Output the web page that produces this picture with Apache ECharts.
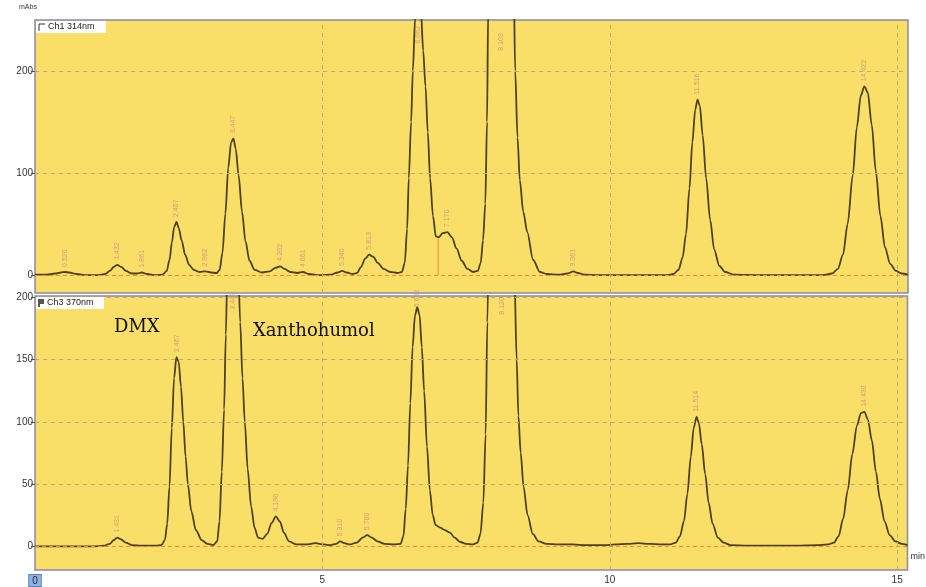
<!DOCTYPE html>
<html><head><meta charset="utf-8">
<script src="https://cdn.jsdelivr.net/npm/echarts@6/dist/echarts.min.js"></script>
<style>html,body{margin:0;padding:0;background:#fff}#c{width:926px;height:587px}</style>
</head><body><div id="c"></div>
<script>
// ---- data (retention time in min, absorbance in mAbs) ----
const xTicks = [0, 5, 10, 15];
const ch1YTicks = [0, 100, 200];
const ch3YTicks = [0, 50, 100, 150, 200];
const ch1Name = 'Ch1 314nm';
const ch3Name = 'Ch3 370nm';
const yUnit = 'mAbs';
const xUnit = 'min';
const compoundNames = ['DMX', 'Xanthohumol'];

const ch1Trace = [[0,0.5],[0.2,0.5],[0.35,1.5],[0.45,2.5],[0.52,3],[0.6,2.5],[0.72,1],[0.9,0],[1.1,0],[1.22,1],[1.3,4],[1.37,8],[1.43,10],[1.5,8],[1.58,4],[1.68,1.5],[1.78,1.5],[1.86,2.5],[1.95,1],[2.1,0],[2.22,0.5],[2.29,4],[2.34,15],[2.38,32],[2.42,47],[2.46,52],[2.5,46],[2.55,34],[2.61,20],[2.68,10],[2.76,5],[2.86,3],[2.96,3.5],[3.06,2.5],[3.16,2],[3.21,5],[3.26,22],[3.31,60],[3.36,105],[3.41,130],[3.45,134],[3.49,124],[3.54,98],[3.6,62],[3.66,33],[3.73,14],[3.82,5],[3.95,2.5],[4.08,3.5],[4.18,7],[4.26,8.5],[4.34,6],[4.44,3],[4.56,2],[4.66,3],[4.76,1],[4.95,0],[5.15,0.5],[5.26,2.5],[5.34,4],[5.42,2.5],[5.52,1],[5.6,2],[5.67,8],[5.74,16],[5.81,20],[5.88,18],[5.96,12],[6.06,6],[6.18,3],[6.3,2],[6.38,3],[6.43,12],[6.47,45],[6.5,95],[6.54,150],[6.57,200],[6.61,252],[6.66,300],[6.71,260],[6.75,220],[6.79,185],[6.83,140],[6.87,95],[6.92,58],[6.97,38],[7.02,37],[7.09,41],[7.17,42],[7.25,37],[7.33,26],[7.42,14],[7.52,6],[7.62,3],[7.7,4],[7.75,12],[7.79,34],[7.83,70],[7.86,150],[7.88,260],[7.92,420],[8.1,500],[8.27,440],[8.32,300],[8.35,200],[8.39,135],[8.43,93],[8.49,62],[8.56,42],[8.66,15],[8.78,3],[8.9,1],[9.1,0.5],[9.26,1.5],[9.36,3.5],[9.44,2],[9.55,0.5],[9.8,0],[10.2,0],[10.6,0],[11.0,0],[11.1,1],[11.19,5],[11.26,17],[11.32,40],[11.38,85],[11.43,130],[11.48,162],[11.52,172],[11.56,166],[11.61,137],[11.67,95],[11.74,54],[11.81,25],[11.9,9],[12.0,3],[12.15,0.5],[12.6,0],[13.2,0],[13.7,0],[13.86,1.5],[13.96,6],[14.05,20],[14.13,50],[14.22,98],[14.29,145],[14.36,176],[14.42,185],[14.48,179],[14.55,147],[14.62,102],[14.7,58],[14.78,27],[14.87,11],[14.97,4],[15.07,1.5],[15.18,0.5]];

const ch3Trace = [[0,0],[0.5,0],[1.0,0],[1.2,0.5],[1.3,2],[1.37,5],[1.43,7],[1.5,5.5],[1.58,3],[1.68,1],[1.85,0.5],[2.1,0.5],[2.2,1],[2.26,5],[2.3,18],[2.34,48],[2.38,95],[2.42,135],[2.46,152],[2.5,148],[2.54,128],[2.58,100],[2.62,72],[2.66,50],[2.72,28],[2.8,13],[2.9,5],[3.0,2],[3.1,1],[3.17,4],[3.21,20],[3.25,60],[3.29,110],[3.32,170],[3.35,230],[3.45,280],[3.53,235],[3.57,180],[3.61,135],[3.65,100],[3.7,62],[3.76,32],[3.82,15],[3.88,7],[3.96,6],[4.04,10],[4.12,19],[4.19,24],[4.26,20],[4.33,11],[4.42,4],[4.55,1.5],[4.72,1.5],[4.88,2.5],[5.02,1.5],[5.14,1],[5.24,2],[5.31,4],[5.38,2.5],[5.48,1.5],[5.6,3],[5.7,7],[5.78,9],[5.86,7],[5.96,4],[6.08,2],[6.25,1.5],[6.36,2],[6.41,8],[6.45,30],[6.49,65],[6.53,115],[6.57,160],[6.61,185],[6.65,192],[6.69,186],[6.73,160],[6.77,125],[6.82,80],[6.87,45],[6.92,25],[6.97,17],[7.05,15],[7.13,13],[7.22,11],[7.3,7],[7.4,3.5],[7.5,2],[7.62,1.5],[7.7,3],[7.75,10],[7.8,35],[7.84,90],[7.87,180],[7.91,290],[8.0,360],[8.15,380],[8.28,340],[8.34,220],[8.38,150],[8.41,105],[8.45,75],[8.5,48],[8.57,25],[8.66,10],[8.76,4],[8.9,2],[9.1,1.5],[9.35,1.5],[9.6,1],[9.9,1],[10.1,1.5],[10.3,2],[10.5,2.5],[10.7,2],[10.9,1.5],[11.05,1.5],[11.15,3],[11.22,8],[11.29,20],[11.35,42],[11.41,72],[11.46,95],[11.51,104],[11.55,99],[11.6,82],[11.66,58],[11.72,35],[11.79,18],[11.88,7],[11.98,3],[12.1,1],[12.4,0.5],[12.8,0.5],[13.2,0.5],[13.6,1],[13.8,1.5],[13.9,3],[13.98,8],[14.06,22],[14.14,45],[14.22,74],[14.3,97],[14.37,107],[14.43,108],[14.49,102],[14.56,85],[14.63,60],[14.7,38],[14.78,20],[14.87,9],[14.97,4],[15.08,2],[15.18,1]];

// peak retention-time labels: [time, value at which label sits, text]
const ch1Peaks = [[0.52,3,'0.520'],[1.43,10,'1.432'],[1.86,2.5,'1.861'],[2.46,52,'2.457'],[2.96,3.5,'2.962'],[3.45,134,'3.447'],[4.26,8.5,'4.262'],[4.66,3,'4.661'],[5.34,4,'5.340'],[5.81,20,'5.813'],[6.66,222,'6.662'],[7.17,42,'7.170'],[8.1,215,'8.103'],[9.36,3.5,'9.361'],[11.52,172,'11.516'],[14.42,185,'14.422']];
const ch3Peaks = [[1.43,7,'1.431'],[2.47,152,'2.467'],[3.45,186,'3.449'],[4.19,24,'4.190'],[5.31,4,'5.310'],[5.78,9,'5.780'],[6.65,188,'6.652'],[8.12,182,'8.120'],[11.51,104,'11.514'],[14.43,108,'14.430']];
// peak-split marker in Ch1
const ch1Split = [[7.01,0],[7.01,36]];

// ---- styling ----
const bg = '#F9DE68';
const traceColor = '#4a4220';
const gridColor = '#bba97a';
const baseColor = '#ee8a3a';
const labelColor = '#cf8a80';
const fontSans = 'Liberation Sans, Arial, sans-serif';

function gridMarks(yTicks) {
  const d = [];
  yTicks.filter(v => v > 0).forEach(v => d.push({yAxis: v}));
  xTicks.filter(v => v > 0).forEach(v => d.push({xAxis: v}));
  d.push({yAxis: 0, lineStyle: {color: baseColor, type: [4, 3], width: 1.2}});
  return d;
}

function peakSeries(data, xi, yi) {
  return {
    type: 'scatter', xAxisIndex: xi, yAxisIndex: yi, z: 4,
    data: data.map(p => ({value: [p[0], p[1]], label: {formatter: p[2]}})),
    symbolSize: 0, silent: true,
    label: {show: true, position: 'top', distance: 5, rotate: 90, align: 'left', verticalAlign: 'middle',
            fontSize: 7, color: labelColor, fontFamily: fontSans}
  };
}

const yAxisCommon = {
  axisLine: {show: false},
  axisTick: {show: true, length: 4, lineStyle: {color: '#555'}},
  axisLabel: {fontSize: 10, color: '#333', margin: 2, fontFamily: fontSans},
  splitLine: {show: false}
};

const option = {
  animation: false,
  backgroundColor: '#fff',
  grid: [
    {left: 35, right: 18, top: 20, height: 273, show: true, backgroundColor: bg, borderColor: '#8c88a8', borderWidth: 1.5},
    {left: 35, right: 18, top: 296, height: 276, show: true, backgroundColor: bg, borderColor: '#8c88a8', borderWidth: 1.5}
  ],
  xAxis: [
    {type: 'value', gridIndex: 0, min: 0, max: 15.18, axisLine: {show: false}, axisTick: {show: false},
     axisLabel: {show: false}, splitLine: {show: false}},
    {type: 'value', gridIndex: 1, min: 0, max: 15.18, axisLine: {show: false},
     axisTick: {show: true, customValues: xTicks, length: 3, inside: true, lineStyle: {color: '#999'}},
     axisLabel: {customValues: xTicks, fontSize: 10, color: '#333', margin: 5, fontFamily: fontSans,
       formatter: v => v === 0 ? '{z|0}' : String(v),
       rich: {z: {backgroundColor: '#8fb4e0', borderColor: '#5b7fc0', borderWidth: 1, padding: [1, 3, 0, 3], color: '#223', fontSize: 10}}},
     splitLine: {show: false},
     name: xUnit, nameLocation: 'end', nameGap: 3,
     nameTextStyle: {fontSize: 9, color: '#333', verticalAlign: 'top', align: 'left', padding: [6, 0, 0, 0], fontFamily: fontSans}}
  ],
  yAxis: [
    Object.assign({}, yAxisCommon, {type: 'value', gridIndex: 0, min: -17.6, max: 250,
      axisTick: Object.assign({}, yAxisCommon.axisTick, {customValues: ch1YTicks}),
      axisLabel: Object.assign({}, yAxisCommon.axisLabel, {customValues: ch1YTicks})}),
    Object.assign({}, yAxisCommon, {type: 'value', gridIndex: 1, min: -19, max: 201,
      axisTick: Object.assign({}, yAxisCommon.axisTick, {customValues: ch3YTicks}),
      axisLabel: Object.assign({}, yAxisCommon.axisLabel, {customValues: ch3YTicks})})
  ],
  series: [
    {type: 'line', xAxisIndex: 0, yAxisIndex: 0, z: 1, data: [[0, 0]], showSymbol: false, lineStyle: {width: 0}, silent: true,
     markLine: {silent: true, symbol: 'none', label: {show: false}, animation: false,
       lineStyle: {color: gridColor, type: [4, 4], width: 1}, data: gridMarks(ch1YTicks)}},
    {type: 'line', xAxisIndex: 0, yAxisIndex: 0, z: 3, data: ch1Trace, showSymbol: false, smooth: 0.3, smoothMonotone: 'x',
     clip: true, lineStyle: {color: traceColor, width: 1.8}, silent: true},
    {type: 'line', xAxisIndex: 0, yAxisIndex: 0, z: 2, data: ch1Split, showSymbol: false,
     lineStyle: {color: baseColor, width: 1}, silent: true},
    peakSeries(ch1Peaks, 0, 0),
    {type: 'line', xAxisIndex: 1, yAxisIndex: 1, z: 1, data: [[0, 0]], showSymbol: false, lineStyle: {width: 0}, silent: true,
     markLine: {silent: true, symbol: 'none', label: {show: false}, animation: false,
       lineStyle: {color: gridColor, type: [4, 4], width: 1}, data: gridMarks(ch3YTicks)}},
    {type: 'line', xAxisIndex: 1, yAxisIndex: 1, z: 3, data: ch3Trace, showSymbol: false, smooth: 0.3, smoothMonotone: 'x',
     clip: true, lineStyle: {color: traceColor, width: 1.8}, silent: true},
    peakSeries(ch3Peaks, 1, 1)
  ],
  graphic: [
    {type: 'text', left: 19, top: 4, style: {text: yUnit, fontSize: 7, fill: '#333', font: '7px ' + fontSans}},
    {type: 'rect', shape: {x: 36, y: 21, width: 70, height: 12}, style: {fill: '#fff'}, z: 10},
    {type: 'polyline', shape: {points: [[39, 31], [39, 24], [45, 24]]}, style: {stroke: '#333', lineWidth: 1, fill: null}, z: 11},
    {type: 'text', x: 48, y: 27, style: {text: ch1Name, fontSize: 9, fill: '#222', font: '9px ' + fontSans, verticalAlign: 'middle'}, z: 11},
    {type: 'rect', shape: {x: 36, y: 297, width: 68, height: 12}, style: {fill: '#fff'}, z: 10},
    {type: 'polygon', shape: {points: [[38, 299], [44, 299], [44, 304], [40, 304], [40, 307], [38, 307]]}, style: {fill: '#555'}, z: 11},
    {type: 'text', x: 47, y: 303, style: {text: ch3Name, fontSize: 9, fill: '#222', font: '9px ' + fontSans, verticalAlign: 'middle'}, z: 11},
    {type: 'text', x: 114, y: 327, style: {text: compoundNames[0], font: '18px "DejaVu Serif", serif', fill: '#111', verticalAlign: 'middle'}, z: 11},
    {type: 'text', x: 253, y: 331, style: {text: compoundNames[1], font: '18px "DejaVu Serif", serif', fill: '#111', verticalAlign: 'middle'}, z: 11}
  ]
};

const chart = echarts.init(document.getElementById('c'), null, {renderer: 'canvas'});
chart.setOption(option);
</script>
</body></html>
